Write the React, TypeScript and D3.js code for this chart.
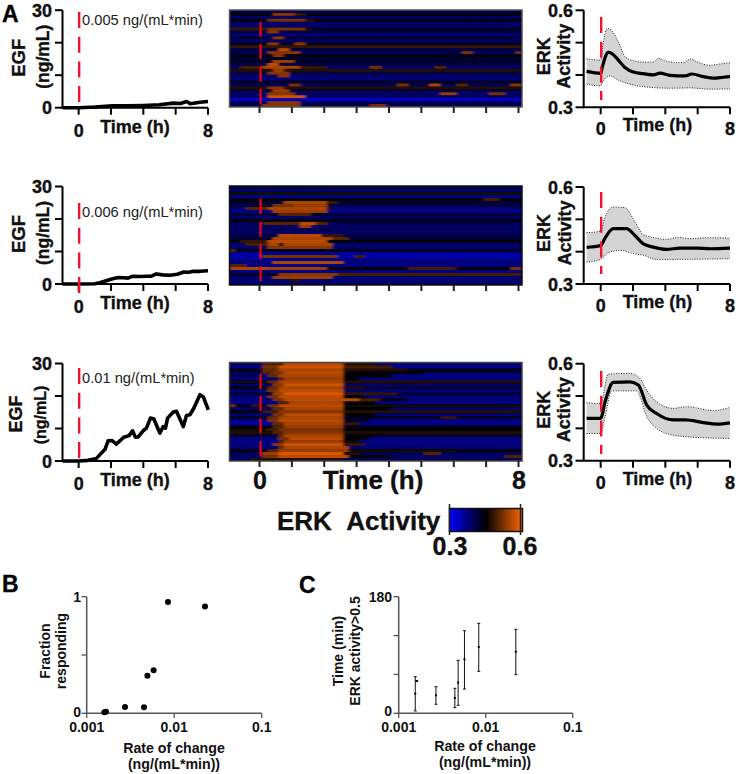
import React from "react";
import * as d3 from "d3";

// ---------- EGF input traces: [hour, ng/mL] ----------
const egfSlow: number[][] = [[-1,0],[0,0],[1,.2],[2.1,.6],[3,.55],[4,.7],[5,.9],[5.85,1.4],[6.3,1.3],[6.67,1.9],[6.9,1.2],[7.5,1.7],[8,1.9]];
const egfMid: number[][] = [[-1,0],[0,0],[1,.1],[1.3,.4],[1.7,1],[2.1,1.6],[2.45,2],[2.8,1.9],[3.05,1.8],[3.35,2.4],[3.8,2.3],[4.2,2.4],[4.5,2.4],[4.8,3.1],[5.2,2.8],[5.65,2.7],[6.1,3],[6.5,3.7],[6.8,3.6],[7.1,3.9],[7.5,3.9],[8,4.1]];
const egfFast: number[][] = [[-1,0],[0,0],[.58,.2],[1.1,.8],[1.36,2.2],[1.63,3.6],[1.82,6.2],[2.07,6.3],[2.33,5.2],[2.79,7.3],[3.12,7.8],[3.33,9.3],[3.51,7.3],[3.68,7.4],[3.99,9.3],[4.19,10.1],[4.44,13.2],[4.65,12.9],[5.02,8.6],[5.23,10.6],[5.37,10.1],[5.5,13.2],[5.85,15.1],[6.05,15.3],[6.47,10.6],[6.67,14],[6.88,14.2],[7.13,16.3],[7.5,20.4],[7.71,19.7],[8.02,15.7]];

// ---------- ERK mean and band: [hour, activity] ----------
const erkMeanSlow: number[][] = [[-.87,.411],[0,.405],[.12,.428],[.47,.47],[.68,.467],[1.09,.446],[1.5,.423],[2.02,.409],[2.64,.404],[3.26,.4],[3.67,.406],[4.29,.399],[5.22,.397],[5.63,.403],[6.35,.395],[6.97,.39],[7.59,.393],[8,.395]];
const erkHighSlow: number[][] = [[-.87,.45],[0,.446],[.12,.487],[.41,.544],[.68,.537],[1.09,.503],[1.5,.457],[2.02,.444],[2.64,.44],[3.26,.44],[3.57,.451],[4.08,.442],[5.11,.438],[5.57,.449],[5.94,.441],[6.76,.43],[7.38,.434],[8,.438]];
const erkLowSlow: number[][] = [[-.87,.372],[0,.366],[.12,.379],[.58,.397],[1.09,.384],[2.02,.369],[3.26,.361],[4.29,.359],[5.52,.36],[6.76,.356],[8,.357]];
const erkMeanMid: number[][] = [[-.87,.413],[0,.419],[.27,.442],[.78,.471],[1.6,.471],[2.12,.45],[2.64,.424],[3.26,.414],[4.08,.407],[4.9,.411],[5.94,.411],[6.76,.409],[8,.411]];
const erkHighMid: number[][] = [[-.87,.459],[0,.463],[.27,.507],[.78,.538],[1.5,.536],[2.12,.492],[2.64,.452],[3.26,.444],[4.08,.438],[4.8,.444],[5.52,.44],[6.56,.443],[8,.442]];
const erkLowMid: number[][] = [[-.87,.368],[0,.376],[.47,.397],[1.19,.404],[2.02,.394],[2.64,.389],[3.46,.376],[8,.378]];
const erkMeanFast: number[][] = [[-.87,.431],[0,.431],[.27,.482],[.78,.542],[1.81,.544],[2.33,.534],[2.85,.472],[3.46,.446],[4.49,.426],[5.22,.426],[6.35,.418],[7.18,.413],[8,.417]];
const erkHighFast: number[][] = [[-.87,.479],[0,.477],[.47,.568],[1.81,.57],[2.43,.554],[2.85,.518],[3.46,.482],[4.49,.462],[5.31,.467],[6.97,.455],[8,.465]];
const erkLowFast: number[][] = [[-.87,.384],[0,.384],[.27,.436],[.68,.516],[2.23,.516],[2.85,.436],[3.46,.4],[4.49,.379],[5.94,.372],[8,.369]];

// ---------- Heatmap rows: [base level, [from hour, to hour, level]...] ----------
type HeatRow = (number | number[])[];
const heatSlow: HeatRow[] = [
  [.4],[.44,[.4,1.05,.53],[1.05,1.4,.48]],[.39],[.44,[.25,1.4,.52],[1.4,1.8,.47]],[.39],[.39],
  [.43,[-.9,.2,.48],[.2,1.4,.52],[1.4,1.6,.47]],[.41,[.25,.6,.53]],[.38],[.42,[.4,.7,.53]],[.39],
  [.43,[.25,.6,.53],[1.1,1.4,.53]],[.48],[.41,[.6,.9,.56]],[.4,[.25,1.2,.53],[6.2,6.6,.52],[7.9,8.1,.52]],
  [.44,[.4,.75,.53]],[.42],[.43,[.4,1.05,.54]],[.41,[.25,.6,.56]],
  [.39,[-.6,0,.49],[.1,1.25,.55],[1.25,2,.48],[3.4,3.7,.52],[5.4,5.8,.5]],[.47,[.4,.75,.54]],[.41,[.25,.9,.53]],
  [.39,[.6,.9,.53]],[.38],[.43],[.4,[.9,1.25,.52],[4.2,4.6,.52],[5.3,5.6,.55],[6.1,6.4,.5],[7.75,8.1,.53]],
  [.47,[.25,.75,.53]],[.41,[.4,.9,.54]],[.39,[.25,1,.53],[5.6,6,.54],[7.1,7.5,.52]],[.39,[.25,1.4,.57]],
  [.33],[.4,[.25,1.2,.53]],[.41,[.1,1.2,.53],[3.4,3.9,.52]],
];
const heatMid: HeatRow[] = [
  [.41],[.39],[.46],[.37],[.44,[6.9,7.4,.49]],[.42,[.75,2.1,.55],[2.1,2.4,.48]],
  [.41,[0,.25,.47],[.4,1,.52],[1,2.1,.54]],[.38,[-.4,.2,.5],[.2,2.1,.55],[2.1,2.3,.47]],[.37,[.4,2,.54]],
  [.42,[.55,1.6,.5]],[.39],[.44],[.4,[.1,1.3,.5],[1.3,1.7,.56],[1.7,2.1,.5]],[.39,[1.3,1.6,.54]],[.4],[.39],
  [.41,[.6,1.9,.56],[1.9,2.5,.48]],[.42,[.4,2.2,.55],[2.2,2.7,.5]],[.44,[-.6,.2,.48],[.25,2,.56]],
  [.38,[-.5,.25,.49],[.25,.55,.55],[.55,.8,.48],[.8,2.2,.55]],[.39,[.2,2.3,.53]],[.43,[-.9,-.7,.5]],
  [.36],[.35,[.1,2.4,.52],[2.9,3.2,.49]],[.37],[.38,[.4,2.5,.55]],[.37,[-.9,-.4,.5]],
  [.45,[-.9,.3,.55],[.3,2.1,.54],[4.6,6,.49],[7.8,8.1,.52]],[.37],[.43,[.6,2.4,.53],[2.4,8.1,.49]],
  [.39,[.4,2.2,.54]],[.38,[.9,1.2,.47]],[.39],
];
const heatFast: HeatRow[] = [
  [.38,[-.9,0,.4],[0,.75,.5],[.75,2.5,.56],[2.5,3.5,.47]],
  [.37,[0,.6,.52],[.6,2.5,.57],[2.5,4,.49]],
  [.44,[0,.6,.51],[.6,2.5,.55],[2.5,4.5,.47]],
  [.4,[.1,.4,.5],[.4,.7,.52],[.7,2.55,.56],[2.55,5,.44]],
  [.37,[-.9,.1,.4],[.3,.6,.51],[.6,2.55,.55],[2.6,4,.45]],
  [.38,[.5,.8,.5],[.8,2.5,.54],[2.5,3,.44]],
  [.46,[.2,.6,.51],[.6,2.5,.55],[2.5,8.1,.47]],
  [.39,[.4,.7,.53],[.7,2.55,.57]],
  [.44,[.2,.6,.51],[.6,2.55,.55],[2.6,3.2,.47],[3.2,8.1,.42]],
  [.38,[.3,.6,.52],[.6,2.55,.56]],
  [.42,[.4,.7,.54],[.7,2.55,.58],[2.55,4.3,.48]],
  [.38,[.2,.6,.52],[.6,2.6,.56],[2.6,3.2,.44]],
  [.38,[.4,.7,.52],[.7,3,.56],[3,3.7,.49],[3.7,4.6,.44]],
  [.37,[.6,.9,.5],[.9,2.5,.55],[2.5,3.6,.45]],
  [.43,[-.9,-.7,.52],[-.3,.1,.48],[.3,.6,.52],[.6,2.6,.56],[2.6,8.1,.46]],
  [.39,[.4,.7,.51],[.7,2.6,.55],[2.6,4,.45]],
  [.45,[.1,.6,.49],[.6,2.6,.53],[2.6,8.1,.47]],
  [.38,[.4,.7,.52],[.7,2.6,.56],[2.6,3.6,.45]],
  [.43,[.3,.6,.51],[.6,2.6,.55],[5.5,6,.48]],
  [.37,[.3,.6,.52],[.6,2.6,.56],[2.6,3.4,.43]],
  [.35,[.4,.7,.51],[.7,2.6,.55],[2.6,3.1,.48],[3.1,8.1,.37]],
  [.44,[.4,.7,.5],[.7,2.6,.54],[2.6,8.1,.43]],
  [.46,[.3,.6,.49],[.6,2.6,.52],[2.6,8.1,.45]],
  [.47,[.4,.7,.5],[.7,2.6,.53],[2.6,8.1,.47]],
  [.42,[.5,.8,.51],[.8,2.6,.55],[2.6,3.5,.44]],
  [.38,[.6,.9,.52],[.9,2.6,.56],[2.6,3.4,.44]],
  [.37,[.5,.8,.5],[.8,2.6,.54],[2.6,3.1,.46]],
  [.38,[.4,.7,.53],[.7,2.6,.57],[2.6,3.2,.48]],
  [.38,[.5,.8,.51],[.8,2.7,.55]],
  [.44,[.2,.6,.5],[.6,2.7,.54],[2.7,6,.46]],
  [.4,[0,.6,.54],[.6,2.6,.58],[2.6,3,.47],[5,5.5,.5]],
  [.39,[.1,.6,.52],[.6,2.7,.56],[2.7,4,.44],[7.5,8,.5]],
  [.4,[-.2,2.6,.47]],
];
const heatColumnHours: number[] = d3.range(-7.5, 51).map((c) => c / 6);

// ---------- Dose response ----------
const rateB = [.00159, .00166, .00274, .00452, .00494, .00582, .00849, .0225];
const fractionResponding = [.009, .014, .054, .051, .323, .369, .954, .917];
const rateC = [.00155, .00161, .00268, .00442, .00482, .0057, .00832, .0222];
const timeMean = [30.3, 49.9, 27.8, 23.7, 47.3, 83.3, 102.3, 95.1];
const timeLow = [3.6, 49.9, 13.9, 8.7, 12.3, 37.5, 64.8, 59.7];
const timeHigh = [56.6, 49.9, 41.1, 38.6, 81.8, 127.5, 138.9, 129.6];

// ---------- Labels ----------
const rateLabels = ["0.005 ng/(mL*min)", "0.006 ng/(mL*min)", "0.01 ng/(mL*min)"];
const egfUnit = "(ng/mL)";

const FONT = "'Liberation Sans', Arial, sans-serif";
const BLACK = "#111";
const RED = "#f01232";
const heatColor = d3.scaleLinear<string>().domain([.3, .45, .6]).range(["#0000ff", "#000000", "#ff6600"]).clamp(true);

function T({ x, y, s = 18, w = 700, a = "middle", rot, c = BLACK, heavy, children }: any) {
  return (
    <text x={x} y={y} fontSize={s} fontWeight={w} textAnchor={a} fill={c} fontFamily={FONT}
      stroke={heavy ? c : undefined} strokeWidth={heavy ? .35 : undefined}
      transform={rot ? `rotate(-90 ${x} ${y})` : undefined}>{children}</text>
  );
}

const toLine = (x: any, y: any) =>
  d3.line<number[]>().x((d) => x(d[0])).y((d) => y(d[1]));
const toCurve = (x: any, y: any) => toLine(x, y).curve(d3.curveMonotoneX);

function EgfPanel({ y0, data, note, noteY, dashTop, dashBottom, small }: any) {
  const x = d3.scaleLinear().domain([-1, 8]).range([62.5, 208]);
  const y = d3.scaleLinear().domain([0, 30]).range([y0, y0 - 97.5]);
  return (
    <g>
      <path d={toLine(x, y)(data)!} fill="none" stroke="#000" strokeWidth={3.6} strokeLinejoin="round" />
      <path d={`M${x(-1)},${y(30)}V${y0}H${x(8)}`} fill="none" stroke="#000" strokeWidth={2} />
      {[0, 10, 20, 30].map((t) => <line key={t} x1={55} x2={62.5} y1={y(t)} y2={y(t)} stroke="#000" strokeWidth={2} />)}
      {[0, 2, 4, 6, 8].map((t) => <line key={t} x1={x(t)} x2={x(t)} y1={y0} y2={y0 + 7} stroke="#000" strokeWidth={2} />)}
      <line x1={x(0) + .5} x2={x(0) + .5} y1={dashTop} y2={dashBottom} stroke={RED} strokeWidth={2.4} strokeDasharray="16 8.7" />
      <T heavy x={52} y={y(30) + 6.5} a="end">30</T>
      <T heavy x={52} y={y(0) + 6.5} a="end">0</T>
      <T heavy x={x(0)} y={y0 + 29}>0</T>
      <T heavy x={x(8)} y={y0 + 29}>8</T>
      <T heavy x={135} y={y0 + 25}>Time (h)</T>
      {small ? (
        <>
          <T heavy x={22} y={y0 - 47} s={18} rot>EGF</T>
          <T heavy x={46} y={y0 - 46} s={16} rot>{egfUnit}</T>
        </>
      ) : (
        <>
          <T heavy x={25} y={y0 - 50} s={18.5} rot>EGF</T>
          <T heavy x={49} y={y0 - 51} s={17.5} rot>{egfUnit}</T>
        </>
      )}
      <T x={82} y={noteY} s={14.7} w={400} a="start" c="#222">{note}</T>
    </g>
  );
}

function HeatPanel({ id, top, bottom, rows, dashTops, border }: any) {
  const x = d3.scaleLinear().domain([0, 8]).range([259.5, 518.5]);
  const y = d3.scaleBand<number>().domain(d3.range(rows.length)).range([top, bottom]);
  const colW = (x(8) - x(0)) / 48;
  return (
    <g>
      <clipPath id={id}><rect x={229.5} y={top} width={292.5} height={bottom - top} /></clipPath>
      <g clipPath={`url(#${id})`}>
        <rect x={225} y={top - 5} width={305} height={bottom - top + 10} fill="#000022" />
        <g filter="url(#heatSoft)">
          {rows.map((row: HeatRow, i: number) =>
            heatColumnHours.map((h) => {
              const seg = (row.slice(1) as number[][]).find((s) => h + .083 >= s[0] && h + .083 < s[1]);
              return (
                <rect key={`${i}-${h}`} x={x(h)} y={y(i)!} width={colW + 1} height={y.bandwidth() + .6}
                  fill={heatColor(seg ? seg[2] : (row[0] as number))} />
              );
            })
          )}
        </g>
      </g>
      <rect x={229.5} y={top} width={292.5} height={bottom - top} fill="none" stroke={border} strokeWidth={1.5} />
      {d3.range(0, 9).map((t) => <line key={t} x1={x(t)} x2={x(t)} y1={bottom} y2={bottom + 6} stroke="#222" strokeWidth={2} />)}
      {dashTops.map((d: number) => <line key={d} x1={260.5} x2={260.5} y1={d} y2={d + 15} stroke="#f00010" strokeWidth={2.2} />)}
    </g>
  );
}

function ErkPanel({ y0, mean, high, low, dashTop, dashBottom }: any) {
  const x = d3.scaleLinear().domain([-1.05, 8]).range([583.7, 730]);
  const y = d3.scaleLinear().domain([.3, .6]).range([y0, y0 - 97]);
  const curve = toCurve(x, y);
  const lowReversed = low.slice().reverse();
  const bandPath = `${curve(high)}L${curve(lowReversed)!.slice(1)}Z`;
  return (
    <g>
      <path d={bandPath} fill="#d4d4d4" />
      <path d={curve(high)!} fill="none" stroke="#222" strokeWidth={1} strokeDasharray="1 1.5" />
      <path d={curve(low)!} fill="none" stroke="#222" strokeWidth={1} strokeDasharray="1 1.5" />
      <path d={curve(mean)!} fill="none" stroke="#000" strokeWidth={3.2} strokeLinejoin="round" />
      <path d={`M${x(-1.05)},${y(.6)}V${y0}H${x(8)}`} fill="none" stroke="#000" strokeWidth={2} />
      {[.3, .4, .5, .6].map((t) => <line key={t} x1={575.5} x2={583.7} y1={y(t)} y2={y(t)} stroke="#000" strokeWidth={2} />)}
      {[0, 2, 4, 6, 8].map((t) => <line key={t} x1={x(t)} x2={x(t)} y1={y0} y2={y0 + 7} stroke="#000" strokeWidth={2} />)}
      <line x1={x(0) + .5} x2={x(0) + .5} y1={dashTop} y2={dashBottom} stroke={RED} strokeWidth={2.4} strokeDasharray="16 8.7" />
      <T heavy x={573} y={y(.6) + 6.5} a="end">0.6</T>
      <T heavy x={573} y={y(.3) + 6.5} a="end">0.3</T>
      <T heavy x={x(0)} y={y0 + 28}>0</T>
      <T heavy x={x(8)} y={y0 + 28}>8</T>
      <T heavy x={657.5} y={y0 + 24}>Time (h)</T>
      <T heavy x={550} y={y0 - 51} rot>ERK</T>
      <T heavy x={570.5} y={y0 - 51} rot>Activity</T>
    </g>
  );
}

function App() {
  const bx = d3.scaleLog().domain([.001, .1]).range([86.7, 261.7]);
  const by = d3.scaleLinear().domain([0, 1]).range([713.3, 596.7]);
  const cx = d3.scaleLog().domain([.001, .1]).range([398.7, 572.7]);
  const cy = d3.scaleLinear().domain([0, 180]).range([713.3, 596.7]);
  const GREY = "#555";
  return (
    <svg width={736} height={774} viewBox="0 0 736 774" style={{ position: "absolute", left: 0, top: 0, background: "#fff" }}>
      <defs>
        <filter id="heatSoft" x="0" y="0" width="1" height="1">
          <feGaussianBlur stdDeviation="1.4 0.45" />
        </filter>
        <linearGradient id="erkBar">
          {[.3, .45, .6].map((v) => <stop key={v} offset={(v - .3) / .3} stopColor={heatColor(v)} />)}
        </linearGradient>
      </defs>
      <T x={2} y={22} s={23} a="start" c="#000" heavy>A</T>
      <T x={2} y={592} s={23} a="start" c="#000" heavy>B</T>
      <T x={299} y={593} s={23} a="start" c="#000" heavy>C</T>

      <EgfPanel y0={107.7} data={egfSlow} note={rateLabels[0]} noteY={25} dashTop={12} dashBottom={102} />
      <EgfPanel y0={284} data={egfMid} note={rateLabels[1]} noteY={217} dashTop={203} dashBottom={294} />
      <EgfPanel y0={461} data={egfFast} note={rateLabels[2]} noteY={383} dashTop={368} dashBottom={459} small />

      <HeatPanel id="h1" top={10} bottom={107} rows={heatSlow} dashTops={[21.7, 44, 66.7, 89]} border="#555" />
      <HeatPanel id="h2" top={186} bottom={285} rows={heatMid} dashTops={[199, 221.7, 244, 266]} border="#111" />
      <HeatPanel id="h3" top={362.5} bottom={461} rows={heatFast} dashTops={[374, 396, 418.3, 441]} border="#444" />
      <T heavy x={260} y={489} s={25}>0</T>
      <T heavy x={519} y={489} s={25}>8</T>
      <T heavy x={373} y={489} s={26}>Time (h)</T>

      <ErkPanel y0={107.3} mean={erkMeanSlow} high={erkHighSlow} low={erkLowSlow} dashTop={17} dashBottom={100} />
      <ErkPanel y0={284} mean={erkMeanMid} high={erkHighMid} low={erkLowMid} dashTop={192} dashBottom={274} />
      <ErkPanel y0={460.7} mean={erkMeanFast} high={erkHighFast} low={erkLowFast} dashTop={371} dashBottom={454} />

      <T heavy x={277} y={530} s={26} a="start">{"ERK\u00A0\u00A0Activity"}</T>
      <rect x={449.5} y={508.5} width={73} height={23} fill="url(#erkBar)" stroke="#111" strokeWidth={1.5} />
      <line x1={449.5} x2={449.5} y1={504} y2={535} stroke="#222" strokeWidth={1.5} />
      <line x1={520.5} x2={520.5} y1={504} y2={535} stroke="#222" strokeWidth={1.5} />
      <T heavy x={450} y={555} s={25}>0.3</T>
      <T heavy x={520} y={555} s={25}>0.6</T>

      {/* Panel B */}
      <path d={`M${bx(.001)},${by(1)}V${by(0)}H${bx(.1)}`} fill="none" stroke={GREY} strokeWidth={1.5} />
      {[0, .5, 1].map((t) => <line key={t} x1={81.5} x2={86.7} y1={by(t)} y2={by(t)} stroke={GREY} strokeWidth={1.3} />)}
      {[.001, .01, .1].map((t) => <line key={t} x1={bx(t)} x2={bx(t)} y1={713.3} y2={718} stroke={GREY} strokeWidth={1.3} />)}
      {rateB.map((r, i) => <circle key={i} cx={bx(r)} cy={by(fractionResponding[i])} r={3} fill="#000" />)}
      <T x={81} y={602} s={14} a="end">1</T>
      <T x={81} y={717} s={14} a="end">0</T>
      {[.001, .01, .1].map((t) => <T key={t} x={bx(t)} y={732} s={14}>{String(t)}</T>)}
      <T x={174} y={753} s={14.2}>Rate of change</T>
      <T x={174} y={769} s={14.2}>(ng/(mL*min))</T>
      <T x={50} y={651} s={14} rot>Fraction</T>
      <T x={66} y={651} s={14} rot>responding</T>

      {/* Panel C */}
      <path d={`M${cx(.001)},${cy(180)}V${cy(0)}H${cx(.1)}`} fill="none" stroke={GREY} strokeWidth={1.5} />
      {[0, 60, 120, 180].map((t) => <line key={t} x1={393.5} x2={398.7} y1={cy(t)} y2={cy(t)} stroke={GREY} strokeWidth={1.3} />)}
      {[.001, .01, .1].map((t) => <line key={t} x1={cx(t)} x2={cx(t)} y1={713.3} y2={718} stroke={GREY} strokeWidth={1.3} />)}
      {rateC.map((r, i) => (
        <g key={i} stroke="#111" strokeWidth={1}>
          <line x1={cx(r)} x2={cx(r)} y1={cy(timeLow[i])} y2={cy(timeHigh[i])} />
          <line x1={cx(r) - 1.5} x2={cx(r) + 1.5} y1={cy(timeLow[i])} y2={cy(timeLow[i])} />
          <line x1={cx(r) - 1.5} x2={cx(r) + 1.5} y1={cy(timeHigh[i])} y2={cy(timeHigh[i])} />
          <rect x={cx(r) - 1} y={cy(timeMean[i]) - 1} width={2} height={2} fill="#000" stroke="none" />
        </g>
      ))}
      <T x={392} y={602} s={14} a="end">180</T>
      <T x={392} y={715.5} s={14} a="end">0</T>
      {[.001, .01, .1].map((t) => <T key={t} x={cx(t)} y={731.5} s={14}>{String(t)}</T>)}
      <T x={485} y={751} s={14.2}>Rate of change</T>
      <T x={485} y={767} s={14.2}>(ng/(mL*min))</T>
      <T x={343} y={651} s={14} rot>Time (min)</T>
      <T x={360} y={651} s={14} rot>ERK activity&gt;0.5</T>
    </svg>
  );
}

export default App;
